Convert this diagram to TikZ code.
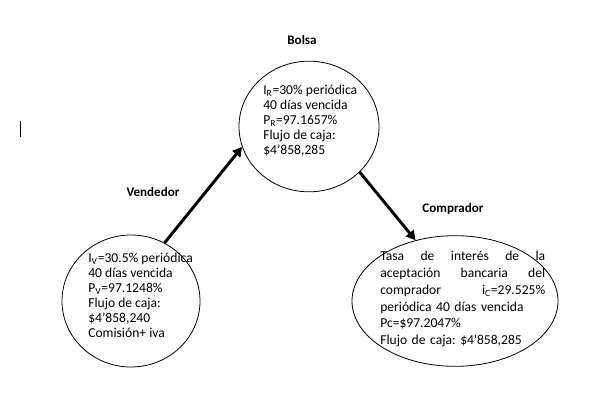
\documentclass[tikz,border=0pt]{standalone}
\usepackage{fontspec}
\setmainfont{Carlito}
\usetikzlibrary{arrows.meta,shapes.geometric,positioning}
\definecolor{ink}{RGB}{0,0,0}
\newcommand{\lineajust}[1]{\makebox[123.75pt][l]{#1}}
\frenchspacing

\begin{document}
\begin{tikzpicture}[x=0.75pt,y=-0.75pt,
    bubble/.style={draw=ink,ellipse,line width=0.6pt,inner sep=0pt},
    party/.style={font=\fontsize{9.8}{11}\selectfont\bfseries},
    datos/.style={anchor=north west,inner sep=0pt,align=left,font=\fontsize{10.2}{11.25}\selectfont},
    flecha/.style={draw=ink,line width=2.2pt,-{Triangle[length=7pt,width=7.5pt]}}]
  \useasboundingbox (0,0) rectangle (611,420);

  % Cursor
  \draw[line width=1pt] (20.5,121) coordinate (cur1) -- (20.5,137) coordinate (cur2);

  % Bolsa
  \node[party] (lblbolsa) at (302,40) {Bolsa};
  \node[bubble,minimum width=105pt,minimum height=98pt] (bolsa) at (309,126.5) {};
  \node[datos] (txtbolsa) at (263,85) {I\textsubscript{R}=30\% periódica\\40 días vencida\\P\textsubscript{R}=97.1657\%\\Flujo de caja:\\\$4’858,285};

  % Vendedor
  \node[party] (lblvendedor) at (153,192) {Vendedor};
  \node[bubble,minimum width=103.5pt,minimum height=99pt] (vendedor) at (131,301) {};
  \node[datos] (txtvendedor) at (88,253) {I\textsubscript{V}=30.5\% periódica\\40 días vencida\\P\textsubscript{V}=97.1248\%\\Flujo de caja:\\\$4’858,240\\Comisión+ iva};

  % Comprador
  \node[party] (lblcomprador) at (453,209) {Comprador};
  \node[bubble,minimum width=154.5pt,minimum height=98pt] (comprador) at (455,301) {};
  \node[datos,text width=123.75pt,font=\fontsize{10.2}{12.6}\selectfont] (txtcomprador) at (380,251)
    {\lineajust{Tasa\hfill de\hfill interés\hfill de\hfill la}\\
     \lineajust{aceptación\hfill bancaria\hfill del}\\
     \lineajust{comprador\hfill i\textsubscript{C}=29.525\%}\\
     periódica 40 días vencida\\
     Pc=\$97.2047\%\\
     Flujo de caja: \$4\textquotesingle 858,285};

  % Flechas
  \draw[flecha] (vendedor.60) -- (bolsa.197);
  \draw[flecha] (bolsa.-42) -- (comprador.123);
\end{tikzpicture}
\end{document}
